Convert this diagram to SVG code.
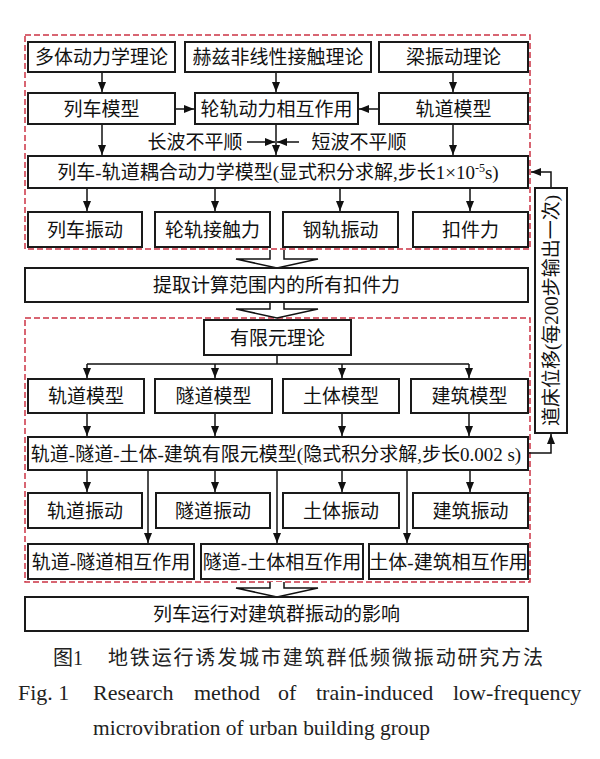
<svg xmlns="http://www.w3.org/2000/svg" width="600" height="759" viewBox="0 0 600 759">
<style>
.b{fill:#fff;stroke:#1a1a1a;stroke-width:2}
.d{fill:none;stroke:#cc3344;stroke-width:1.5;stroke-dasharray:6 3}
.t{font-family:"Liberation Serif","Noto Sans CJK SC",serif;font-size:19px;fill:#111;text-anchor:middle}
.c{fill:none;stroke:#111;stroke-width:1.5}
.h{fill:#fff;stroke:#111;stroke-width:1.5;stroke-linejoin:miter}
.cap{font-family:"Liberation Serif","Noto Sans CJK SC",serif;fill:#222}
</style>
<defs>
<marker id="a" viewBox="0 0 10 8" refX="10" refY="4" markerWidth="10" markerHeight="8" markerUnits="userSpaceOnUse" orient="auto">
<path d="M0,0 L10,4 L0,8 Z" fill="#111"/>
</marker>
</defs>
<rect width="600" height="759" fill="#fff"/>
<g id="frames">
<rect class="d" x="25" y="35" width="505" height="214"/>
<rect class="d" x="25" y="318" width="505" height="264"/>
</g>
<g id="connectors">
<path class="c" d="M102,72V92" marker-end="url(#a)"/>
<path class="c" d="M276,72V92" marker-end="url(#a)"/>
<path class="c" d="M453,72V92" marker-end="url(#a)"/>
<path class="c" d="M175,109H194" marker-end="url(#a)"/>
<path class="c" d="M379,109H359" marker-end="url(#a)"/>
<path class="c" d="M102,124V155" marker-end="url(#a)"/>
<path class="c" d="M276,124V155" marker-end="url(#a)"/>
<path class="c" d="M453,124V155" marker-end="url(#a)"/>
<path class="c" d="M247,142H275" marker-end="url(#a)"/>
<path class="c" d="M299,142H277" marker-end="url(#a)"/>
<path class="c" d="M87,188V211" marker-end="url(#a)"/>
<path class="c" d="M215,188V211" marker-end="url(#a)"/>
<path class="c" d="M340,188V211" marker-end="url(#a)"/>
<path class="c" d="M470,188V211" marker-end="url(#a)"/>
<path class="h" d="M270,250V259H236L277,268L318,259H284V250"/>
<path class="h" d="M270,302V309H236L277,318L318,309H284V302"/>
<path class="c" d="M277,355V364M87,364H469"/>
<path class="c" d="M87,364V378" marker-end="url(#a)"/>
<path class="c" d="M215,364V378" marker-end="url(#a)"/>
<path class="c" d="M342,364V378" marker-end="url(#a)"/>
<path class="c" d="M469,364V378" marker-end="url(#a)"/>
<path class="c" d="M87,413V436" marker-end="url(#a)"/>
<path class="c" d="M215,413V436" marker-end="url(#a)"/>
<path class="c" d="M342,413V436" marker-end="url(#a)"/>
<path class="c" d="M469,413V436" marker-end="url(#a)"/>
<path class="c" d="M87,470V492" marker-end="url(#a)"/>
<path class="c" d="M215,470V492" marker-end="url(#a)"/>
<path class="c" d="M342,470V492" marker-end="url(#a)"/>
<path class="c" d="M470,470V492" marker-end="url(#a)"/>
<path class="c" d="M148,470V543" marker-end="url(#a)"/>
<path class="c" d="M277,470V543" marker-end="url(#a)"/>
<path class="c" d="M407,470V543" marker-end="url(#a)"/>
<path class="h" d="M270,582V588H236L277,597L318,588H284V582"/>
<path class="c" d="M551,188V172H531" marker-end="url(#a)"/>
<path class="c" d="M528,453H551V434" marker-end="url(#a)"/>
</g>
<g id="n1"><rect class="b" x="28" y="42" width="147" height="30"/><text class="t" x="101.5" y="64">多体动力学理论</text></g>
<g id="n2"><rect class="b" x="185" y="42" width="186" height="30"/><text class="t" x="278" y="64">赫兹非线性接触理论</text></g>
<g id="n3"><rect class="b" x="379" y="42" width="149" height="30"/><text class="t" x="453.5" y="64">梁振动理论</text></g>
<g id="n4"><rect class="b" x="28" y="93" width="147" height="31"/><text class="t" x="101.5" y="115.5">列车模型</text></g>
<g id="n5"><rect class="b" x="195" y="93" width="163" height="31"/><text class="t" x="276.5" y="115.5">轮轨动力相互作用</text></g>
<g id="n6"><rect class="b" x="379" y="93" width="149" height="31"/><text class="t" x="453.5" y="115.5">轨道模型</text></g>
<g id="lw"><text class="t" x="195" y="149">长波不平顺</text></g>
<g id="sw"><text class="t" x="359" y="149">短波不平顺</text></g>
<g id="n7"><rect class="b" x="28" y="156" width="500" height="32"/><text class="t" x="278" y="179">列车-轨道耦合动力学模型(显式积分求解,步长1×10<tspan dy="-7" font-size="12">-5</tspan><tspan dy="7">s)</tspan></text></g>
<g id="n8"><rect class="b" x="28" y="212" width="114" height="35"/><text class="t" x="85" y="236.5">列车振动</text></g>
<g id="n9"><rect class="b" x="155" y="212" width="115" height="35"/><text class="t" x="212.5" y="236.5">轮轨接触力</text></g>
<g id="n10"><rect class="b" x="283" y="212" width="115" height="35"/><text class="t" x="340.5" y="236.5">钢轨振动</text></g>
<g id="n11"><rect class="b" x="413" y="212" width="115" height="35"/><text class="t" x="470.5" y="236.5">扣件力</text></g>
<g id="n12"><rect class="b" x="25" y="268" width="503" height="34"/><text class="t" x="276.5" y="292">提取计算范围内的所有扣件力</text></g>
<g id="n13"><rect class="b" x="204" y="320" width="147" height="35"/><text class="t" x="277.5" y="344.5">有限元理论</text></g>
<g id="n14"><rect class="b" x="28" y="379" width="116" height="34"/><text class="t" x="86" y="403">轨道模型</text></g>
<g id="n15"><rect class="b" x="155" y="379" width="117" height="34"/><text class="t" x="213.5" y="403">隧道模型</text></g>
<g id="n16"><rect class="b" x="283" y="379" width="116" height="34"/><text class="t" x="341" y="403">土体模型</text></g>
<g id="n17"><rect class="b" x="411" y="379" width="117" height="34"/><text class="t" x="469.5" y="403">建筑模型</text></g>
<g id="n18"><rect class="b" x="28" y="437" width="500" height="33"/><text class="t" x="276" y="460.5">轨道-隧道-土体-建筑有限元模型(隐式积分求解,步长0.002 s)</text></g>
<g id="n19"><rect class="b" x="28" y="493" width="114" height="35"/><text class="t" x="85" y="517.5">轨道振动</text></g>
<g id="n20"><rect class="b" x="156" y="493" width="114" height="35"/><text class="t" x="213" y="517.5">隧道振动</text></g>
<g id="n21"><rect class="b" x="283" y="493" width="116" height="35"/><text class="t" x="341" y="517.5">土体振动</text></g>
<g id="n22"><rect class="b" x="413" y="493" width="115" height="35"/><text class="t" x="470.5" y="517.5">建筑振动</text></g>
<g id="n23"><rect class="b" x="28" y="544" width="166" height="35"/><text class="t" x="111" y="568.5">轨道-隧道相互作用</text></g>
<g id="n24"><rect class="b" x="201" y="544" width="162" height="35"/><text class="t" x="282" y="568.5">隧道-土体相互作用</text></g>
<g id="n25"><rect class="b" x="369" y="544" width="159" height="35"/><text class="t" x="448.5" y="568.5">土体-建筑相互作用</text></g>
<g id="n26"><rect class="b" x="25" y="597" width="503" height="34"/><text class="t" x="276.5" y="621">列车运行对建筑群振动的影响</text></g>
<g id="n27"><rect class="b" x="535" y="188" width="32" height="245"/><text class="t" x="0" y="0" font-size="18.5" transform="translate(558,310.5) rotate(-90)">道床位移(每200步输出一次)</text></g>
<g id="caption">
<text class="cap" x="53" y="665" font-size="20">图1</text>
<text class="cap" x="108" y="665" font-size="20" textLength="435" lengthAdjust="spacing">地铁运行诱发城市建筑群低频微振动研究方法</text>
<text class="cap" font-size="22" y="700"><tspan x="18">Fig. 1</tspan><tspan x="93">Research</tspan><tspan x="194">method</tspan><tspan x="278">of</tspan><tspan x="316">train-induced</tspan><tspan x="453">low-frequency</tspan></text>
<text class="cap" x="93" y="735" font-size="22" textLength="337" lengthAdjust="spacingAndGlyphs">microvibration of urban building group</text>
</g>
</svg>
